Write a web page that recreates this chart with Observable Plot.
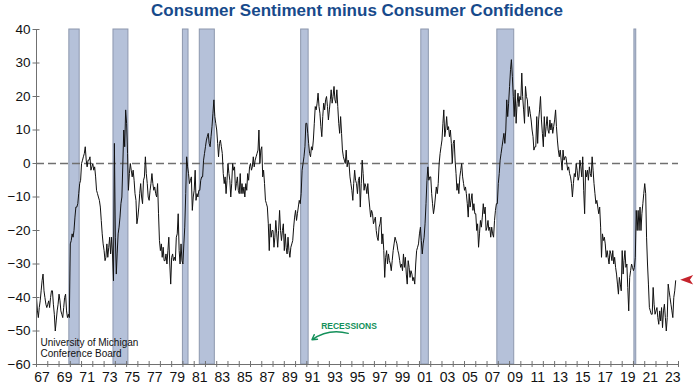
<!DOCTYPE html>
<html>
<head>
<meta charset="utf-8">
<script src="https://cdn.jsdelivr.net/npm/d3@7"></script>
<script src="https://cdn.jsdelivr.net/npm/@observablehq/plot@0.6"></script>
<style>
  body { margin: 0; background: #fff; font-family: "Liberation Sans", Arial, Helvetica, sans-serif; }
  #title { width: 642px; margin-left: 36px; height: 22px; line-height: 22px; text-align: center;
           font-weight: bold; font-size: 17px; color: #174a8b; white-space: nowrap; }
</style>
</head>
<body>
<div id="title">Consumer Sentiment minus Consumer Confidence</div>
<div id="chart"></div>
<script>
// Monthly values, University of Michigan sentiment minus Conference Board confidence, from Jan 1967
const startYear = 1967;
const values = [
  -40, -44, -46, -43, -41, -38, -35, -33, -38, -40, -42, -43, // 1967
  -42, -41, -43, -40, -38, -38, -42, -45, -50, -47, -44, -42, // 1968
  -39, -41, -44, -45, -46, -43, -40, -39, -44, -46, -45, -46, // 1969
  -24, -23, -21, -22, -20, -16, -13, -13, -12, -9, -6, -5,    // 1970
  0, 1, 2, 3, 5, 1, -1, 1, 1, 2, -2, -1,                      // 1971
  0, -2, -1, -4, -8, -9, -10, -11, -13, -17, -21, -24,        // 1972
  -26, -29, -28, -24, -28, -25, -22, -27, -22, -27, -35, 6,   // 1973
  -22, -33, -27, -21, -19, -16, -12, -10, 0, 10, 5, 16,       // 1974
  12, 3, -8, -3, 0, -2, -4, -2, -5, -9, -11, -18,             // 1975
  -16, -13, -9, -6, -10, -12, -5, -4, 2, -3, -6, -10,         // 1976
  -11, -8, -6, -3, -6, -8, -7, -9, -10, -6, -15, -23,         // 1977
  -26, -24, -28, -25, -29, -29, -27, -30, -26, -22, -30, -36, // 1978
  -28, -27, -29, -28, -29, -22, -21, -15, -26, -30, -24, -29, // 1979
  -30, -24, -19, -9, 2, -1, -3, -6, -5, -4, -14, -10,         // 1980
  -8, -2, -11, -9, -10, -8, -8, -5, -4, -4, 1, 3,             // 1981
  5, 7, 8, 9, 6, 5, 8, 11, 15, 19, 14, 12,                    // 1982
  10, 6, 2, 6, 7, 5, 3, -3, -6, -4, -9, -5,                   // 1983
  0, -3, -5, -10, -6, 0, -2, -1, -8, -6, -4, -8,              // 1984
  -9, -3, -9, -6, -9, -7, -10, -6, -8, -3, -5, -1,            // 1985
  0, -2, -1, 2, -1, 1, 2, 3, 4, 10, 0, 4,                     // 1986
  5, -4, -2, -6, -11, -12, -13, -18, -26, -18, -22, -20,      // 1987
  -20, -25, -22, -17, -21, -25, -20, -14, -20, -23, -20, -18, // 1988
  -26, -21, -25, -27, -22, -26, -28, -25, -24, -23, -19, -16, // 1989
  -14, -17, -15, -13, -11, -12, -9, -2, 0, 2, 5, 12,          // 1990
  12, 9, 6, 3, 2, 5, 4, 7, 12, 17, 16, 18,                    // 1991
  21, 17, 15, 11, 8, 14, 18, 16, 19, 20, 17, 13,              // 1992
  16, 19, 22, 18, 20, 23, 19, 18, 22, 17, 12, 9,              // 1993
  14, 9, 4, 2, 1, 0, 4, -1, 1, 0, -4, -6,                     // 1994
  -8, -11, -6, -2, -5, -6, -9, -5, -4, -13, -6, 1,            // 1995
  -3, -8, -6, -7, -9, -6, -10, -13, -16, -14, -15, -18,       // 1996
  -17, -16, -20, -22, -23, -19, -18, -16, -24, -21, -26, -34, // 1997
  -28, -26, -30, -27, -29, -30, -32, -29, -26, -24, -22, -23, // 1998
  -24, -26, -27, -29, -31, -30, -32, -27, -31, -28, -33, -36, // 1999
  -29, -31, -34, -32, -33, -35, -34, -36, -30, -26, -25, -24, // 2000
  -21, -19, -23, -27, -24, -22, -18, -12, -5, -1, -5, -4,     // 2001
  -4, -9, -12, -15, -13, -10, -7, -9, -6, 0, 3, 5,            // 2002
  7, 12, 16, 8, 10, 14, 10, 11, 8, 10, 6, 0,                  // 2003
  6, 7, 1, -3, -8, -6, -9, -4, -2, 0, -4, -6,                 // 2004
  -8, -7, -9, -12, -16, -9, -13, -11, -9, -14, -12, -15,      // 2005
  -15, -20, -18, -25, -21, -17, -19, -16, -12, -15, -13, -20, // 2006
  -19, -17, -20, -19, -22, -19, -21, -22, -17, -14, -12, -12, // 2007
  -6, -3, 1, 3, 5, 7, 9, 6, 10, 19, 14, 18,                   // 2008
  23, 28, 31, 26, 20, 14, 22, 12, 18, 21, 17, 20,             // 2009
  19, 27, 20, 16, 12, 23, 20, 19, 14, 17, 15, 13,             // 2010
  10, 8, 4, 5, 5, 14, 6, 13, 16, 20, 13, 9,                   // 2011
  5, 14, 8, 11, 14, 10, 9, 13, 10, 12, 9, 11,                 // 2012
  13, 16, 11, 7, 4, 2, 4, 1, -2, 4, 1, 2,                     // 2013
  2, 0, -2, -1, -3, -4, -6, -10, -6, -3, -4, 0,               // 2014
  -2, -5, -4, 1, -1, -4, 2, -8, -15, -2, -4, -2,              // 2015
  -5, -1, -3, -4, 2, -2, -6, -9, -12, -11, -13, -15,          // 2016
  -13, -19, -28, -21, -23, -22, -24, -28, -26, -28, -30, -26, // 2017
  -27, -29, -26, -30, -28, -31, -33, -36, -39, -34, -36, -38, // 2018
  -26, -33, -29, -26, -31, -30, -37, -44, -34, -32, -30, -31, // 2019
  -32, -31, -28, -14, -20, -14, -20, -13, -20, -15, -12, -9,  // 2020
  -6, -9, -22, -30, -36, -43, -44, -45, -45, -37, -42, -45,   // 2021
  -44, -43, -46, -48, -44, -47, -43, -49, -44, -42, -46, -50, // 2022
  -46, -36, -38, -40, -42, -44, -46, -40, -38, -35            // 2023
];

// NBER recessions (start month, end month)
const recessionStart = ["1969-12", "1973-11", "1980-01", "1981-07", "1990-07", "2001-03", "2007-12", "2020-02"];
const recessionEnd   = ["1970-11", "1975-03", "1980-07", "1982-11", "1991-03", "2001-11", "2009-06", "2020-04"];

const yTicks = [40, 30, 20, 10, 0, -10, -20, -30, -40, -50, -60];
const xLabelYears = [1967, 1969, 1971, 1973, 1975, 1977, 1979, 1981, 1983, 1985, 1987, 1989, 1991, 1993, 1995,
                     1997, 1999, 2001, 2003, 2005, 2007, 2009, 2011, 2013, 2015, 2017, 2019, 2021, 2023];
const sourceLine1 = "University of Michigan";
const sourceLine2 = "Conference Board";
const recessionLabel = "RECESSIONS";

const parseMonth = s => new Date(Date.UTC(+s.slice(0, 4), +s.slice(5, 7) - 1, 1));
const data = values.map((v, i) => ({date: new Date(Date.UTC(startYear, i, 1)), value: v}));
const recessions = recessionStart.map((s, i) => ({start: parseMonth(s), end: parseMonth(recessionEnd[i])}));
const xStart = new Date(Date.UTC(1967, 0, 1));
const xEnd = new Date(Date.UTC(2024, 0, 1));
const yearTicks = d3.utcYear.range(xStart, new Date(Date.UTC(2024, 6, 1)));
const labelDates = xLabelYears.map(y => new Date(Date.UTC(y, 6, 1)));
const last = data[data.length - 1];

const fmtY = d => (d < 0 ? "\u2212" + Math.abs(d) : String(d));

// left-pointing dart symbol for the latest-value marker
const dart = {
  draw(ctx, size) {
    const r = Math.sqrt(size / Math.PI);
    ctx.moveTo(-r, 0);
    ctx.lineTo(r, -0.72 * r);
    ctx.lineTo(0.5 * r, 0);
    ctx.lineTo(r, 0.72 * r);
    ctx.closePath();
  }
};

const font = '"Liberation Sans", Arial, Helvetica, sans-serif';
const grey = "#707070";

const chart = Plot.plot({
  width: 700,
  height: 368,
  marginTop: 7,
  marginBottom: 26,
  marginLeft: 36,
  marginRight: 22,
  style: {fontFamily: font, color: "#111", background: "#fff"},
  x: {type: "utc", domain: [xStart, xEnd]},
  y: {domain: [-60, 40]},
  marks: [
    Plot.rect(recessions, {x1: "start", x2: "end", fill: "#b5c1d9", stroke: "#8d98ae", strokeWidth: 1}),
    Plot.ruleY([0], {stroke: grey, strokeWidth: 1.4, strokeDasharray: "8,4"}),
    Plot.line(data, {x: "date", y: "value", stroke: "#111", strokeWidth: 1}),
    Plot.ruleX([xStart], {stroke: grey, strokeWidth: 1}),
    Plot.ruleY([-60], {stroke: grey, strokeWidth: 1}),
    Plot.axisY(yTicks, {tickSize: 7, dx: 3.5, fill: "none", stroke: grey, label: null}),
    Plot.axisY(yTicks, {tickSize: 0, tickPadding: 6, tickFormat: fmtY, fontSize: 13.5, label: null}),
    Plot.axisX(yearTicks, {tickSize: 6, dy: -3, fill: "none", stroke: grey, label: null}),
    Plot.axisX(labelDates, {tickSize: 0, tickPadding: 8, fontSize: 14, label: null,
      tickFormat: d => String(d.getUTCFullYear()).slice(2)}),
    Plot.text([sourceLine1], {frameAnchor: "bottom-left", dx: 4, dy: -21.5,
      textAnchor: "start", lineAnchor: "middle", fontSize: 10, fill: "#111"}),
    Plot.text([sourceLine2], {frameAnchor: "bottom-left", dx: 4, dy: -10.5,
      textAnchor: "start", lineAnchor: "middle", fontSize: 10, fill: "#111"}),
    Plot.text([recessionLabel], {x: new Date(Date.UTC(1994, 9, 1)), y: -48.6, fontSize: 8.5,
      fontWeight: "bold", fill: "#13905a", textAnchor: "middle", lineAnchor: "middle"}),
    Plot.arrow([0], {x1: new Date(Date.UTC(1994, 8, 5)), y1: -50.7, x2: new Date(Date.UTC(1991, 5, 15)), y2: -52.6,
      bend: -25, stroke: "#13905a", strokeWidth: 1.4, headLength: 6}),
    Plot.dot([last], {x: "date", y: "value", symbol: dart, r: 6.5, fill: "#c5232c", stroke: "none", dx: 11, dy: -1})
  ]
});
document.getElementById("chart").appendChild(chart);
</script>
</body>
</html>
